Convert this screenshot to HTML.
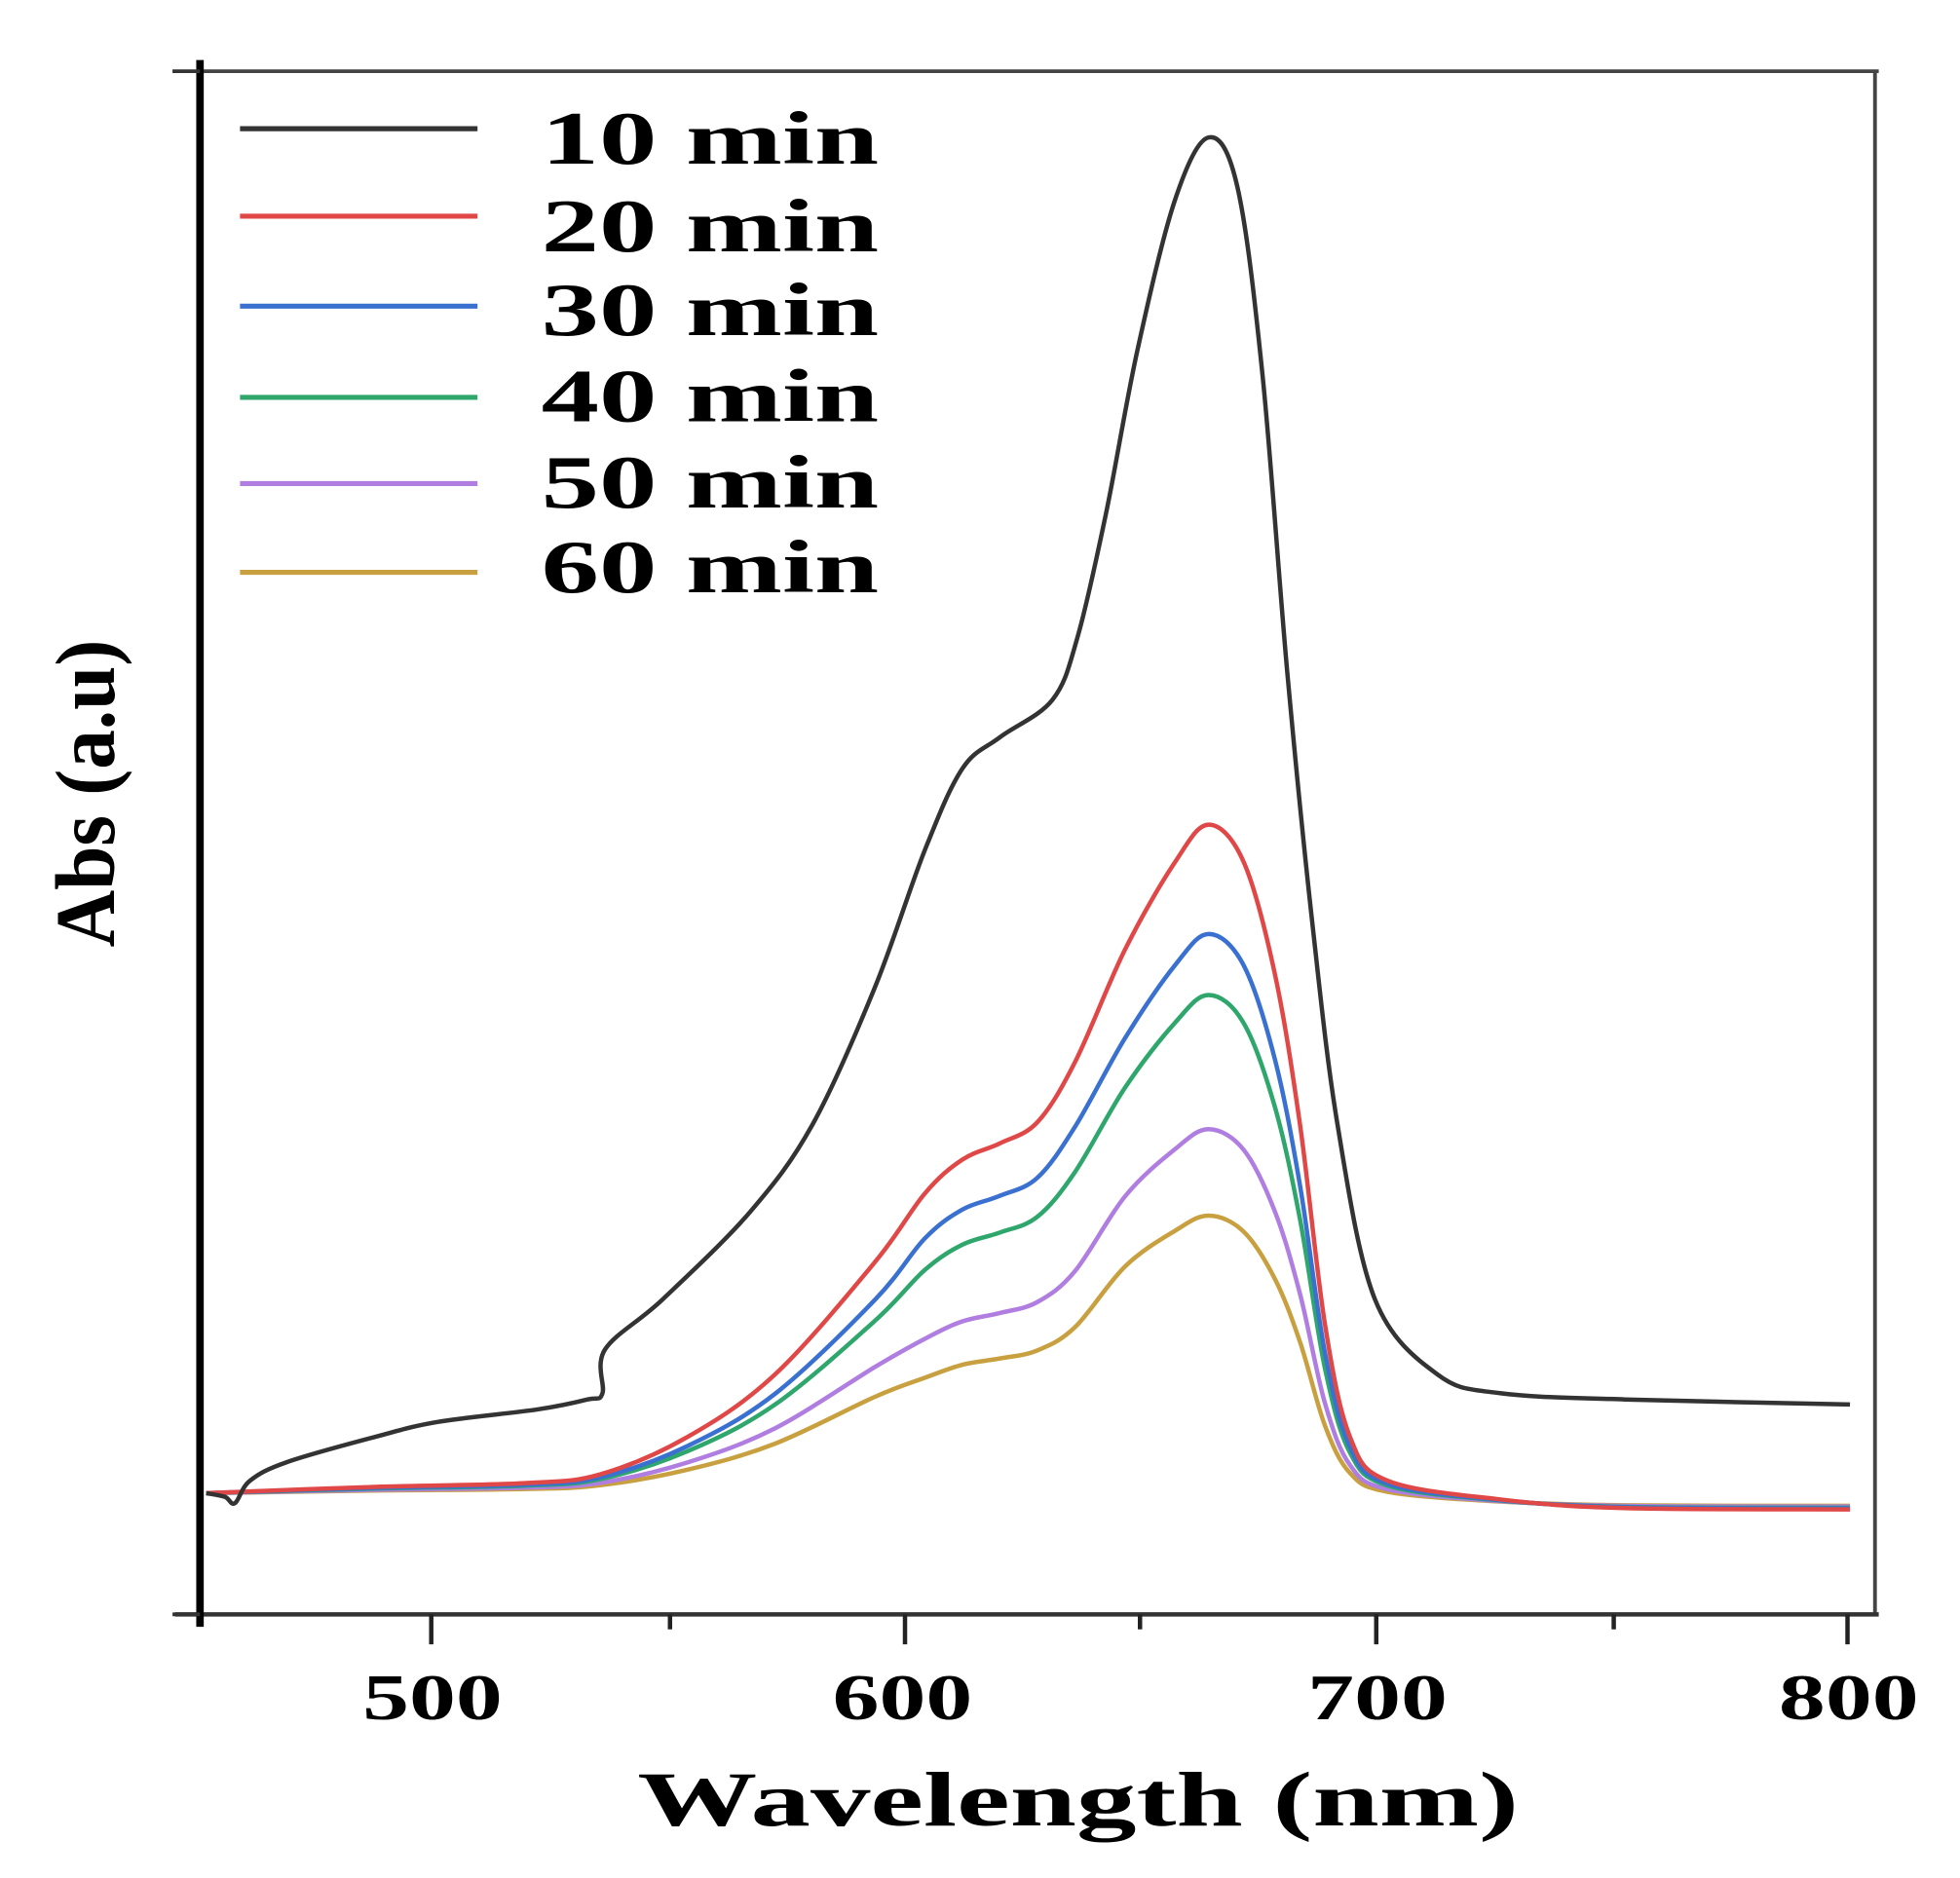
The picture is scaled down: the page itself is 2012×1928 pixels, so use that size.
<!DOCTYPE html>
<html><head><meta charset="utf-8"><style>
html,body{margin:0;padding:0;background:#fff;width:2012px;height:1928px;overflow:hidden}
svg{display:block}
text{font-family:"Liberation Serif",serif;font-weight:bold;fill:#000}
</style></head><body>
<svg id="s" width="2012" height="1928" viewBox="0 0 1568 1503" preserveAspectRatio="none" xmlns="http://www.w3.org/2000/svg">
<rect width="1568" height="1503" fill="#fff"/>
<line x1="160" y1="57" x2="1503" y2="57" stroke="#444" stroke-width="3"/>
<line x1="1500" y1="57" x2="1500" y2="1292" stroke="#444" stroke-width="3"/>
<line x1="140" y1="1292" x2="1503" y2="1292" stroke="#333" stroke-width="3.5"/>
<line x1="160" y1="48" x2="160" y2="1302" stroke="#000" stroke-width="6"/>
<line x1="138" y1="57" x2="160" y2="57" stroke="#333" stroke-width="3"/>
<line x1="138" y1="1292" x2="160" y2="1292" stroke="#333" stroke-width="3"/>
<g stroke="#222" stroke-width="3.5">
<line x1="345" y1="1292" x2="345" y2="1316"/>
<line x1="536" y1="1292" x2="536" y2="1304"/>
<line x1="724" y1="1292" x2="724" y2="1316"/>
<line x1="912" y1="1292" x2="912" y2="1304"/>
<line x1="1101" y1="1292" x2="1101" y2="1316"/>
<line x1="1291" y1="1292" x2="1291" y2="1304"/>
<line x1="1478" y1="1292" x2="1478" y2="1316"/>
</g>
<g font-size="52">
<text x="290" y="1376" textLength="112" lengthAdjust="spacingAndGlyphs">500</text>
<text x="666" y="1376" textLength="112" lengthAdjust="spacingAndGlyphs">600</text>
<text x="1046" y="1376" textLength="112" lengthAdjust="spacingAndGlyphs">700</text>
<text x="1423" y="1376" textLength="112" lengthAdjust="spacingAndGlyphs">800</text>
</g>
<text x="510" y="1461" font-size="62" textLength="705" lengthAdjust="spacingAndGlyphs">Wavelength (nm)</text>
<text transform="translate(91,758) rotate(-90)" font-size="68" textLength="246" lengthAdjust="spacingAndGlyphs">Abs (a.u)</text>
<g stroke-width="4">
<line x1="192" y1="103" x2="382" y2="103" stroke="#333"/>
<line x1="192" y1="173" x2="382" y2="173" stroke="#e04848"/>
<line x1="192" y1="245" x2="382" y2="245" stroke="#3a70d0"/>
<line x1="192" y1="318" x2="382" y2="318" stroke="#2ea66c"/>
<line x1="192" y1="387" x2="382" y2="387" stroke="#b07ee0"/>
<line x1="192" y1="458" x2="382" y2="458" stroke="#c8a040"/>
</g>
<g font-size="60">
<text x="433" y="131" textLength="270" lengthAdjust="spacingAndGlyphs">10 min</text>
<text x="433" y="201" textLength="270" lengthAdjust="spacingAndGlyphs">20 min</text>
<text x="433" y="268" textLength="270" lengthAdjust="spacingAndGlyphs">30 min</text>
<text x="433" y="337" textLength="270" lengthAdjust="spacingAndGlyphs">40 min</text>
<text x="433" y="406" textLength="270" lengthAdjust="spacingAndGlyphs">50 min</text>
<text x="433" y="474" textLength="270" lengthAdjust="spacingAndGlyphs">60 min</text>
</g>
<g id="curves" fill="none" stroke-width="3.5" stroke-linejoin="round"></g>
</svg>
<script>
function cr(p){var d="M"+p[0][0]+","+p[0][1];for(var i=0;i<p.length-1;i++){var p0=p[i-1]||p[i],p1=p[i],p2=p[i+1],p3=p[i+2]||p2;var c1x=p1[0]+(p2[0]-p0[0])/6,c1y=p1[1]+(p2[1]-p0[1])/6,c2x=p2[0]-(p3[0]-p1[0])/6,c2y=p2[1]-(p3[1]-p1[1])/6;d+=" C"+c1x.toFixed(1)+","+c1y.toFixed(1)+" "+c2x.toFixed(1)+","+c2y.toFixed(1)+" "+p2[0]+","+p2[1];}return d;}
var black=[[165,1195],[180,1198],[188,1203],[200,1185],[230,1170],[300,1150],[350,1138],[430,1128],[470,1120],[482,1115],[484,1080],[530,1040],[600,970],[650,900],[700,790],[740,680],[770,615],[800,590],[842,560],[862,510],[885,410],[910,280],[940,160],[967,110],[990,150],[1010,300],[1030,540],[1050,740],[1070,900],[1100,1040],[1150,1100],[1200,1115],[1300,1120],[1480,1124]];
var red=[[165,1195],[300,1190],[420,1187],[480,1180],[550,1150],[620,1100],[700,1010],[740,955],[770,928],[800,915],[830,898],[860,850],[900,760],[940,690],[967,660],[995,690],[1020,780],[1040,900],[1060,1060],[1080,1150],[1110,1185],[1200,1200],[1300,1207],[1480,1208]];
function base(x){return x<1100?1195+(x>900?(x-900)/200*5:0):1200+Math.min(5,(x-1100)/200*5);}
function scaled(k,ks){return red.map(function(p){var b=base(p[0]);var kk=(p[0]>700&&p[0]<880)?ks:k;var by=(p[0]>1150)?1203:b;return [p[0],+(by-kk*(by-p[1])).toFixed(1)];});}
var g=document.getElementById("curves");
function add(pts,c){var e=document.createElementNS("http://www.w3.org/2000/svg","path");e.setAttribute("d",cr(pts));e.setAttribute("stroke",c);g.appendChild(e);}
add(scaled(0.417,0.385),"#c8a040");
add(scaled(0.546,0.515),"#b07ee0");
add(scaled(0.746,0.745),"#2ea66c");
add(scaled(0.837,0.85),"#3a70d0");
add(red,"#e04848");
add(black,"#333");
</script>
</body></html>
